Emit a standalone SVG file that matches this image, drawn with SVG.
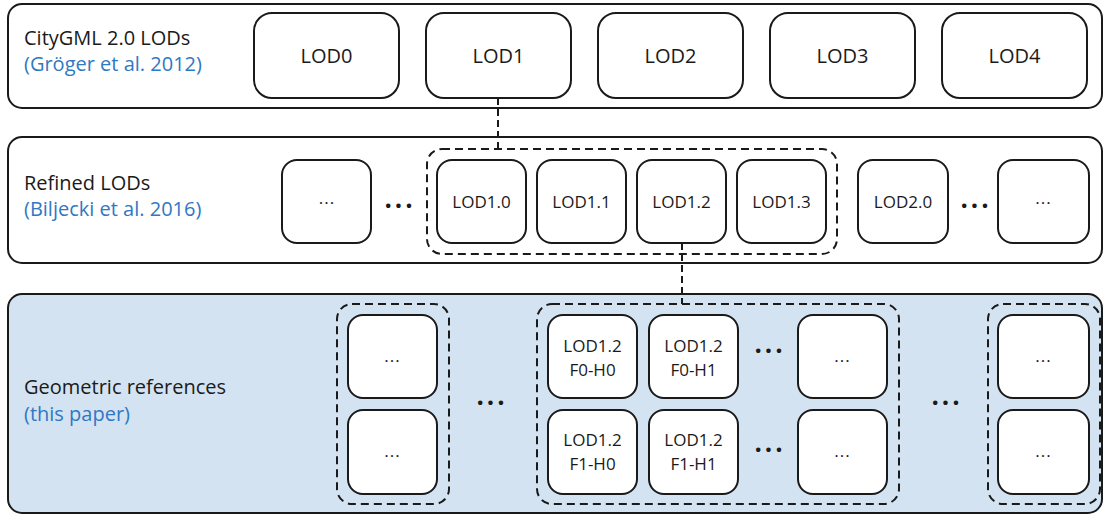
<svg xmlns="http://www.w3.org/2000/svg" width="1105" height="515" viewBox="0 0 1105 515">
<style>
.row{fill:#fff;stroke:#1a1a1a;stroke-width:2}
.row3{fill:#d4e3f1;stroke:#1a1a1a;stroke-width:2}
.box{fill:#fff;stroke:#1a1a1a;stroke-width:2}
.grp{fill:none;stroke:#1a1a1a;stroke-width:2;stroke-dasharray:8 5}
.con{fill:none;stroke:#1a1a1a;stroke-width:2;stroke-dasharray:7 4}
text{font-family:"Open Sans","Noto Sans","DejaVu Sans",sans-serif;fill:#1a1a1a}
.lbl{font-size:20px}
.ref{font-size:20px;fill:#2f78c3}
.t1{font-size:20px;text-anchor:middle}
.t2{font-size:17px;text-anchor:middle}
.el{font-size:17px;text-anchor:middle;letter-spacing:1px}
.dots{font-size:26px;font-weight:bold;text-anchor:middle;letter-spacing:3px}
</style>
<g id="row1">
<rect class="row" x="8" y="4" width="1094" height="104" rx="14"/>
<text class="lbl" x="24" y="45">CityGML 2.0 LODs</text>
<text class="ref" x="24" y="71">(Gröger et al. 2012)</text>
</g>
<g id="row2">
<rect class="row" x="8" y="137" width="1094" height="126" rx="14"/>
<text class="lbl" x="24" y="190">Refined LODs</text>
<text class="ref" x="24" y="216">(Biljecki et al. 2016)</text>
</g>
<g id="row3">
<rect class="row3" x="8" y="294" width="1094" height="219" rx="14"/>
<text class="lbl" x="24" y="394">Geometric references</text>
<text class="ref" x="24" y="421">(this paper)</text>
</g>
<g id="lod0"><rect class="box" x="254" y="13" width="145" height="85" rx="18"/><text class="t1" x="326.5" y="62.5">LOD0</text></g>
<g id="lod1"><rect class="box" x="426" y="13" width="145" height="85" rx="18"/><text class="t1" x="498.5" y="62.5">LOD1</text></g>
<g id="lod2"><rect class="box" x="598" y="13" width="145" height="85" rx="18"/><text class="t1" x="670.5" y="62.5">LOD2</text></g>
<g id="lod3"><rect class="box" x="770" y="13" width="145" height="85" rx="18"/><text class="t1" x="842.5" y="62.5">LOD3</text></g>
<g id="lod4"><rect class="box" x="942" y="13" width="145" height="85" rx="18"/><text class="t1" x="1014.5" y="62.5">LOD4</text></g>
<g id="lod1-group"><rect class="grp" x="427" y="149" width="410" height="105" rx="15"/></g>
<g id="r2-more-left"><rect class="box" x="282" y="160" width="89" height="83" rx="15"/><text class="el" x="327" y="204">...</text></g>
<g id="r2-dots-left"><text class="dots" x="400" y="208">...</text></g>
<g id="lod10"><rect class="box" x="437" y="160" width="89" height="83" rx="15"/><text class="t2" x="481.5" y="208">LOD1.0</text></g>
<g id="lod11"><rect class="box" x="537" y="160" width="89" height="83" rx="15"/><text class="t2" x="581.5" y="208">LOD1.1</text></g>
<g id="lod12"><rect class="box" x="637" y="160" width="89" height="83" rx="15"/><text class="t2" x="681.5" y="208">LOD1.2</text></g>
<g id="lod13"><rect class="box" x="737" y="160" width="89" height="83" rx="15"/><text class="t2" x="781.5" y="208">LOD1.3</text></g>
<g id="lod20"><rect class="box" x="858" y="160" width="90" height="83" rx="15"/><text class="t2" x="903" y="208">LOD2.0</text></g>
<g id="r2-dots-right"><text class="dots" x="976" y="208">...</text></g>
<g id="r2-more-right"><rect class="box" x="998" y="160" width="91" height="83" rx="15"/><text class="el" x="1043.5" y="204">...</text></g>
<g id="g-left">
<rect class="grp" x="337" y="304" width="112" height="200" rx="15"/>
<rect class="box" x="348" y="315" width="89" height="83" rx="15"/><text class="el" x="392.5" y="362">...</text>
<rect class="box" x="348" y="410" width="89" height="84" rx="15"/><text class="el" x="392.5" y="457">...</text>
</g>
<g id="r3-dots-left"><text class="dots" x="492" y="405">...</text></g>
<g id="g-lod12">
<rect class="grp" x="537" y="304" width="362" height="200" rx="15"/>
</g>
<g id="f0h0"><rect class="box" x="548" y="315" width="89" height="83" rx="15"/><text class="t2" x="592.5" y="352">LOD1.2</text><text class="t2" x="592.5" y="376">F0-H0</text></g>
<g id="f0h1"><rect class="box" x="649" y="315" width="89" height="83" rx="15"/><text class="t2" x="693.5" y="352">LOD1.2</text><text class="t2" x="693.5" y="376">F0-H1</text></g>
<g id="r3-dots-a"><text class="dots" x="770" y="353">...</text></g>
<g id="f0more"><rect class="box" x="798" y="315" width="89" height="83" rx="15"/><text class="el" x="842.5" y="362">...</text></g>
<g id="f1h0"><rect class="box" x="548" y="410" width="89" height="84" rx="15"/><text class="t2" x="592.5" y="446">LOD1.2</text><text class="t2" x="592.5" y="470">F1-H0</text></g>
<g id="f1h1"><rect class="box" x="649" y="410" width="89" height="84" rx="15"/><text class="t2" x="693.5" y="446">LOD1.2</text><text class="t2" x="693.5" y="470">F1-H1</text></g>
<g id="r3-dots-b"><text class="dots" x="770" y="452">...</text></g>
<g id="f1more"><rect class="box" x="798" y="410" width="89" height="84" rx="15"/><text class="el" x="842.5" y="457">...</text></g>
<g id="r3-dots-right"><text class="dots" x="947" y="405">...</text></g>
<g id="g-right">
<rect class="grp" x="988" y="304" width="112" height="200" rx="15"/>
<rect class="box" x="998" y="315" width="91" height="83" rx="15"/><text class="el" x="1043.5" y="362">...</text>
<rect class="box" x="998" y="410" width="91" height="84" rx="15"/><text class="el" x="1043.5" y="457">...</text>
</g>
<g id="connectors">
<line class="con" x1="498" y1="98" x2="498" y2="149"/>
<line class="con" x1="682" y1="243" x2="682" y2="304"/>
</g>
</svg>
